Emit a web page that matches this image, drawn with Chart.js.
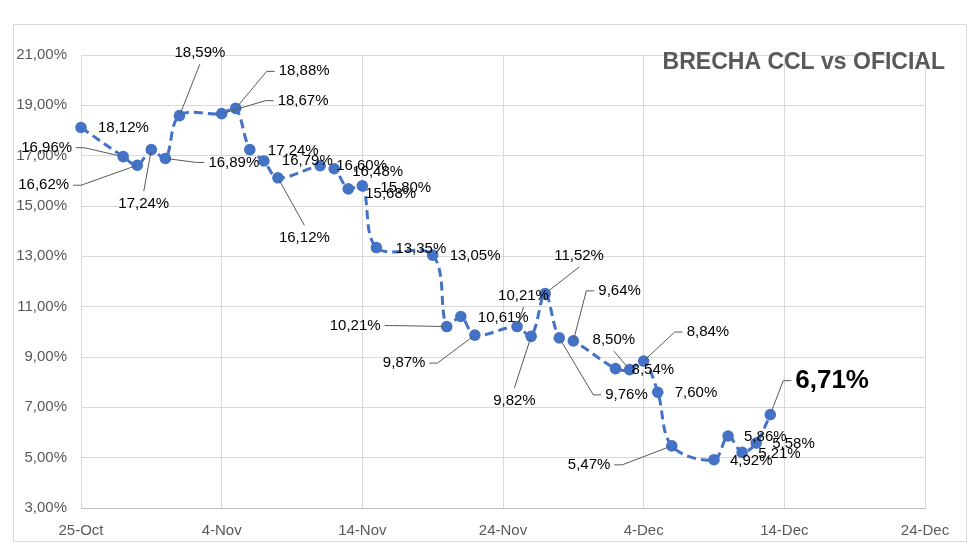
<!DOCTYPE html>
<html>
<head>
<meta charset="utf-8">
<script src="https://cdn.jsdelivr.net/npm/chart.js@4"></script>
<style>
  html, body { margin: 0; padding: 0; background: #ffffff; }
  #wrap { position: relative; width: 980px; height: 555px; }
  #frame { position: absolute; left: 13px; top: 24px; width: 954px; height: 518px; border: 1px solid #d9d9d9; box-sizing: border-box; pointer-events: none; }
</style>
</head>
<body>
<div id="wrap">
  <canvas id="c" width="980" height="555"></canvas>
  <div id="frame"></div>
</div>
<script>
// ---- data ----
const chartTitle = 'BRECHA CCL vs OFICIAL';
const axisStart = '2022-10-25';
const axisEnd = '2022-12-24';
const dates = ['2022-10-25','2022-10-28','2022-10-29','2022-10-30','2022-10-31','2022-11-01',
  '2022-11-04','2022-11-05','2022-11-06','2022-11-07','2022-11-08','2022-11-11','2022-11-12',
  '2022-11-13','2022-11-14','2022-11-15','2022-11-19','2022-11-20','2022-11-21','2022-11-22',
  '2022-11-25','2022-11-26','2022-11-27','2022-11-28','2022-11-29','2022-12-02','2022-12-03',
  '2022-12-04','2022-12-05','2022-12-06','2022-12-09','2022-12-10','2022-12-11','2022-12-12',
  '2022-12-13'];
const brecha = [18.12,16.96,16.62,17.24,16.89,18.59,18.67,18.88,17.24,16.79,16.12,16.60,16.48,
  15.68,15.80,13.35,13.05,10.21,10.61,9.87,10.21,9.82,11.52,9.76,9.64,8.54,8.50,8.84,7.60,
  5.47,4.92,5.86,5.21,5.58,6.71];
const xTickLabels = ['25-Oct','4-Nov','14-Nov','24-Nov','4-Dec','14-Dec','24-Dec'];
const yTickLabels = ['3,00%','5,00%','7,00%','9,00%','11,00%','13,00%','15,00%','17,00%','19,00%','21,00%'];

// ---- label placement (pixel offsets of label left/centre from its point, leader side) ----
const labelPlacement = [
  [17,0,null],[-102,-9,'right'],[-119,20,'right'],[-33,54,'top'],[43,4,'left'],[-5,-63,'bottom'],
  [56,-13,'left'],[43,-37,'left'],[18,1,null],[18,0,null],[1,60,'top'],[16,0,null],[18,3,null],
  [17,5,null],[18,2,null],[19,1,null],[17,1,null],[-117,-1,'right'],[17,1,null],[-92,28,'right'],
  [-19,-31,'bottom'],[-38,64,'top'],[9,-38,'bottom'],[46,57,'left'],[25,-50,'left'],
  [16,1,null],[-37,-30,'bottom'],[43,-29,'left'],[17,1,null],[-104,19,'right'],
  [16,1,null],[16,1,null],[16,1,null],[16,1,null],[25,-34,'left']
];

const DAY = 86400000;
const t0 = Date.parse(axisStart + 'T00:00:00Z');
const dayOf = s => Math.round((Date.parse(s + 'T00:00:00Z') - t0) / DAY);
const points = dates.map((d, i) => ({ x: dayOf(d), y: brecha[i] }));
const fmt = v => v.toFixed(2).replace('.', ',') + '%';

const labelPlugin = {
  id: 'pointLabels',
  afterDatasetsDraw(chart) {
    const ctx = chart.ctx;
    const meta = chart.getDatasetMeta(0);
    ctx.save();
    meta.data.forEach((pt, i) => {
      const last = i === brecha.length - 1;
      const [dx, dy, side] = labelPlacement[i];
      const txt = fmt(brecha[i]);
      ctx.font = last ? 'bold 26px "Liberation Sans", Arial, sans-serif' : '15px "Liberation Sans", Arial, sans-serif';
      const w = ctx.measureText(txt).width;
      const h = last ? 26 : 15;
      const left = pt.x + dx, cy = pt.y + dy;
      if (side) {
        let sx, sy, ex, ey;
        if (side === 'right') { sx = left + w + 4; sy = cy; ex = sx + 8; ey = cy; }
        else if (side === 'left') { sx = left - 4; sy = cy; ex = sx - 8; ey = cy; }
        else if (side === 'top') { sx = left + w / 2; sy = cy - h / 2 - 5; ex = sx; ey = sy; }
        else { sx = left + w / 2; sy = cy + h / 2 + 4; ex = sx; ey = sy; }
        const vx = pt.x - ex, vy = pt.y - ey;
        const len = Math.hypot(vx, vy) || 1;
        const px = pt.x - vx / len * 3, py = pt.y - vy / len * 3;
        ctx.strokeStyle = '#595959';
        ctx.lineWidth = 1;
        ctx.beginPath();
        ctx.moveTo(sx, sy); ctx.lineTo(ex, ey); ctx.lineTo(px, py);
        ctx.stroke();
      }
      ctx.fillStyle = '#000000';
      ctx.textAlign = 'left';
      ctx.textBaseline = 'middle';
      ctx.fillText(txt, left, cy);
    });
    // title
    ctx.font = 'bold 23px "Liberation Sans", Arial, sans-serif';
    ctx.fillStyle = '#595959';
    ctx.textAlign = 'right';
    ctx.textBaseline = 'middle';
    ctx.fillText(chartTitle, 945, 63);
    ctx.restore();
  }
};

new Chart(document.getElementById('c'), {
  type: 'line',
  data: {
    datasets: [{
      label: 'Brecha CCL vs Oficial',
      data: points,
      borderColor: '#4472C4',
      backgroundColor: '#4472C4',
      borderWidth: 3,
      borderDash: [9, 5],
      tension: 0.35,
      pointRadius: 5.8,
      pointBorderWidth: 0,
      pointBackgroundColor: '#4472C4',
      fill: false,
      clip: false
    }]
  },
  options: {
    responsive: false,
    animation: false,
    layout: { padding: { left: 0, right: 55, top: 55, bottom: 0 } },
    plugins: { legend: { display: false }, tooltip: { enabled: false }, title: { display: false } },
    scales: {
      x: {
        type: 'linear',
        min: 0,
        max: dayOf(axisEnd),
        afterFit: s => { s.height = 47; },
        ticks: {
          stepSize: 10,
          padding: 14,
          color: '#595959',
          font: { family: '"Liberation Sans", Arial, sans-serif', size: 15 },
          maxRotation: 0,
          callback: (v, i) => xTickLabels[i]
        },
        grid: { color: '#d9d9d9', drawTicks: false, lineWidth: 1 },
        border: { color: '#bfbfbf', width: 1 }
      },
      y: {
        min: 3,
        max: 21,
        afterFit: s => { s.width = 81; },
        ticks: {
          stepSize: 2,
          padding: 14,
          color: '#595959',
          font: { family: '"Liberation Sans", Arial, sans-serif', size: 15 },
          callback: (v, i) => yTickLabels[i]
        },
        grid: { color: '#d9d9d9', drawTicks: false, lineWidth: 1 },
        border: { display: false }
      }
    }
  },
  plugins: [labelPlugin]
});
</script>
</body>
</html>
